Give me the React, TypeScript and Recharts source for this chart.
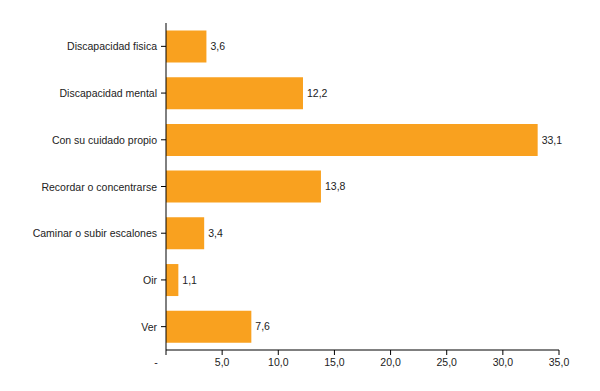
import React from "react";
import { BarChart, Bar, XAxis, YAxis, LabelList } from "recharts";

const categories = [
  "Discapacidad fisica",
  "Discapacidad mental",
  "Con su cuidado propio",
  "Recordar o concentrarse",
  "Caminar o subir escalones",
  "Oir",
  "Ver",
];
const values = [3.6, 12.2, 33.1, 13.8, 3.4, 1.1, 7.6];
const xTicks = [0, 5, 10, 15, 20, 25, 30, 35];

const data = categories.map((name, i) => ({ name, value: values[i] }));

const FONT = "Liberation Sans, Arial, sans-serif";
const fmt = (v: number) => (v === 0 ? "-" : v.toFixed(1).replace(".", ","));

const XTick = (props: any) => {
  const { x, y, payload } = props;
  const isZero = payload.value === 0;
  return (
    <text
      x={isZero ? x - 10 : x}
      y={y + 9}
      textAnchor="middle"
      fontSize={10.5}
      fontFamily={FONT}
      fill="#222"
    >
      {fmt(payload.value)}
    </text>
  );
};

const YTick = (props: any) => {
  const { x, y, payload } = props;
  return (
    <text
      x={x}
      y={y}
      dy={4}
      textAnchor="end"
      fontSize={10.5}
      fontFamily={FONT}
      fill="#222"
    >
      {payload.value}
    </text>
  );
};

export default function App() {
  return (
    <div style={{ position: "absolute", left: 0, top: 0, background: "#fff" }}>
      <BarChart
        width={600}
        height={391}
        data={data}
        layout="vertical"
        margin={{ top: 23, right: 41, bottom: 16, left: 0 }}
        barCategoryGap="16%"
      >
        <XAxis
          type="number"
          domain={[0, 35]}
          ticks={xTicks}
          interval={0}
          height={25}
          axisLine={{ stroke: "#000", strokeWidth: 1 }}
          tickLine={{ stroke: "#000" }}
          tickSize={5}
          tick={<XTick />}
        />
        <YAxis
          type="category"
          dataKey="name"
          width={166}
          axisLine={{ stroke: "#000", strokeWidth: 1 }}
          tickLine={{ stroke: "#000" }}
          tickSize={5}
          tickMargin={4}
          interval={0}
          tick={<YTick />}
        />
        <Bar dataKey="value" fill="#F9A11F" isAnimationActive={false}>
          <LabelList
            dataKey="value"
            position="right"
            offset={4}
            formatter={(v: any) => fmt(Number(v))}
            style={{ fontSize: 10.5, fill: "#222", fontFamily: FONT }}
          />
        </Bar>
      </BarChart>
    </div>
  );
}
